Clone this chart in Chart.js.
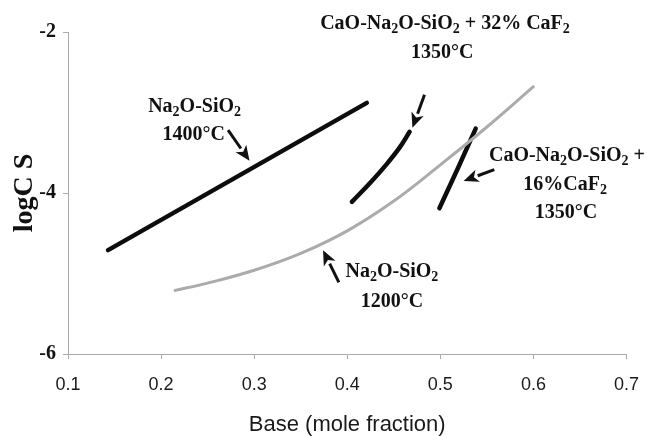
<!DOCTYPE html>
<html>
<head>
<meta charset="utf-8">
<script src="https://cdn.jsdelivr.net/npm/chart.js@4.4.1/dist/chart.umd.min.js"></script>
<style>
  body { margin: 0; background: #fff; }
  #wrap { width: 654px; height: 436px; }
</style>
</head>
<body>
<div id="wrap"><canvas id="myChart"></canvas></div>
<script>
// tick labels
const xTicks = [0.1, 0.2, 0.3, 0.4, 0.5, 0.6, 0.7];
const yTicks = [-6, -4, -2];

// series values (base mole fraction, logCs)
const na1400X = [0.143, 0.421];
const na1400Y = [-4.71, -2.88];

const na1200X = [0.215, 0.25, 0.3, 0.35, 0.4, 0.45, 0.5, 0.55, 0.6];
const na1200Y = [-5.21, -5.12, -4.96, -4.75, -4.47, -4.10, -3.65, -3.18, -2.68];

const caf32X = [0.405, 0.425, 0.441, 0.456, 0.467];
const caf32Y = [-4.11, -3.87, -3.66, -3.44, -3.24];

const caf16X = [0.499, 0.519, 0.538];
const caf16Y = [-4.19, -3.69, -3.20];

// text notes, "_2" means subscript 2 (x, y = baseline centre in data units)
const notes = [
  { text: "CaO-Na_2O-SiO_2 + 32% CaF_2", x: 0.505, y: -1.963 },
  { text: "1350°C", x: 0.502, y: -2.323 },
  { text: "Na_2O-SiO_2", x: 0.236, y: -2.994 },
  { text: "1400°C", x: 0.235, y: -3.342 },
  { text: "CaO-Na_2O-SiO_2 +", x: 0.636, y: -3.602 },
  { text: "16%CaF_2", x: 0.634, y: -3.963 },
  { text: "1350°C", x: 0.635, y: -4.311 },
  { text: "Na_2O-SiO_2", x: 0.448, y: -5.043 },
  { text: "1200°C", x: 0.448, y: -5.416 },
];

// arrows: from (x0,y0) to tip (x1,y1)
const arrows = [
  [0.272, -3.22, 0.295, -3.60],
  [0.483, -2.78, 0.470, -3.19],
  [0.558, -3.71, 0.525, -3.85],
  [0.391, -5.11, 0.374, -4.71],
];

function pts(xs, ys) {
  return xs.map((x, i) => ({ x: x, y: ys[i] }));
}

const serif = "'Liberation Serif', 'Times New Roman', serif";
const sans = "'Liberation Sans', Arial, sans-serif";

const notesPlugin = {
  id: "notes",
  afterDatasetsDraw(chart) {
    const ctx = chart.ctx;
    const xs = chart.scales.x;
    const ys = chart.scales.y;
    ctx.save();
    ctx.fillStyle = "#111";
    ctx.textBaseline = "alphabetic";
    ctx.textAlign = "left";
    notes.forEach((n) => {
      const parts = n.text.split(/(_\d)/).filter((p) => p !== "");
      let w = 0;
      parts.forEach((p) => {
        ctx.font = p[0] === "_" ? "bold 14px " + serif : "bold 20px " + serif;
        w += ctx.measureText(p[0] === "_" ? p.slice(1) : p).width;
      });
      let px = xs.getPixelForValue(n.x) - w / 2;
      const py = ys.getPixelForValue(n.y);
      parts.forEach((p) => {
        if (p[0] === "_") {
          ctx.font = "bold 14px " + serif;
          ctx.fillText(p.slice(1), px, py + 4);
          px += ctx.measureText(p.slice(1)).width;
        } else {
          ctx.font = "bold 20px " + serif;
          ctx.fillText(p, px, py);
          px += ctx.measureText(p).width;
        }
      });
    });

    ctx.strokeStyle = "#111";
    ctx.lineWidth = 3;
    arrows.forEach((a) => {
      const x0 = xs.getPixelForValue(a[0]);
      const y0 = ys.getPixelForValue(a[1]);
      const x1 = xs.getPixelForValue(a[2]);
      const y1 = ys.getPixelForValue(a[3]);
      const ang = Math.atan2(y1 - y0, x1 - x0);
      const hl = 15, hw = 6.5;
      const bx = x1 - hl * Math.cos(ang);
      const by = y1 - hl * Math.sin(ang);
      ctx.beginPath();
      ctx.moveTo(x0, y0);
      ctx.lineTo(bx, by);
      ctx.stroke();
      ctx.beginPath();
      ctx.moveTo(x1, y1);
      ctx.lineTo(bx + hw * Math.sin(ang), by - hw * Math.cos(ang));
      ctx.lineTo(bx + 4 * Math.cos(ang), by + 4 * Math.sin(ang));
      ctx.lineTo(bx - hw * Math.sin(ang), by + hw * Math.cos(ang));
      ctx.closePath();
      ctx.fill();
    });
    ctx.restore();
  },
};

const lineStyle = {
  showLine: true,
  pointRadius: 0,
  borderCapStyle: "round",
  borderJoinStyle: "round",
  fill: false,
};

new Chart(document.querySelector("#myChart"), {
  type: "scatter",
  data: {
    datasets: [
      { ...lineStyle, label: "Na2O-SiO2 1400°C", data: pts(na1400X, na1400Y), borderColor: "#0d0d0d", borderWidth: 4.5 },
      { ...lineStyle, label: "Na2O-SiO2 1200°C", data: pts(na1200X, na1200Y), borderColor: "#ababab", borderWidth: 3, tension: 0.4 },
      { ...lineStyle, label: "CaO-Na2O-SiO2 + 32% CaF2 1350°C", data: pts(caf32X, caf32Y), borderColor: "#0d0d0d", borderWidth: 4.5, tension: 0.4 },
      { ...lineStyle, label: "CaO-Na2O-SiO2 + 16% CaF2 1350°C", data: pts(caf16X, caf16Y), borderColor: "#0d0d0d", borderWidth: 4.5 },
    ],
  },
  options: {
    responsive: true,
    maintainAspectRatio: false,
    animation: false,
    layout: { padding: { top: 32, right: 15, left: 0, bottom: 0 } },
    plugins: {
      legend: { display: false },
      tooltip: { enabled: false },
    },
    scales: {
      x: {
        type: "linear",
        min: 0.1,
        max: 0.7,
        afterBuildTicks: (s) => { s.ticks = xTicks.map((v) => ({ value: v })); },
        afterFit: (s) => { s.height = 82; },
        border: { color: "#aaa", width: 1 },
        grid: { drawOnChartArea: false, drawTicks: true, tickLength: 5, color: "#aaa" },
        ticks: {
          padding: 15,
          color: "#1a1a1a",
          font: { family: sans, size: 18 },
          callback: (v) => Number(v).toFixed(1),
        },
        title: {
          display: true,
          text: "Base (mole fraction)",
          color: "#1a1a1a",
          font: { family: sans, size: 22, lineHeight: 1 },
          padding: { top: 0, bottom: 0 },
        },
      },
      y: {
        type: "linear",
        min: -6,
        max: -2,
        afterBuildTicks: (s) => { s.ticks = yTicks.map((v) => ({ value: v })); },
        afterFit: (s) => { s.width = 68; },
        border: { color: "#aaa", width: 1 },
        grid: { drawOnChartArea: false, drawTicks: true, tickLength: 5, color: "#aaa" },
        ticks: {
          padding: 7,
          color: "#111",
          font: { family: serif, size: 20, weight: "bold" },
          callback: (v) => String(v),
        },
        title: {
          display: true,
          text: "logC S",
          color: "#111",
          font: { family: serif, size: 28, weight: "bold", lineHeight: 1.2 },
          padding: { top: 8, bottom: 0 },
        },
      },
    },
  },
  plugins: [notesPlugin],
});
</script>
</body>
</html>
